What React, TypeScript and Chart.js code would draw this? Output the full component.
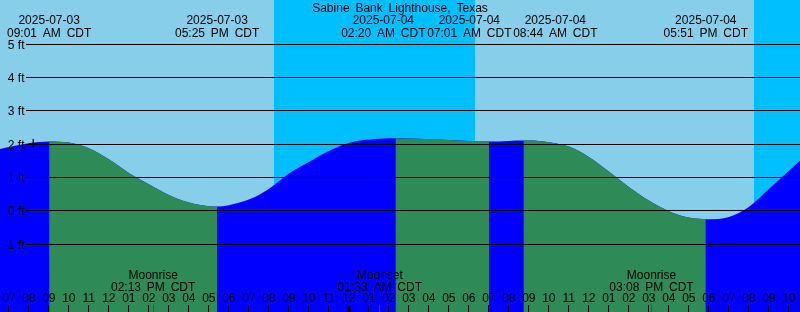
import React, { useEffect, useRef } from 'react';
import { Chart, registerables } from 'chart.js';

Chart.register(...registerables);

// ---------- data (hours since 2025-07-03 00:00 CDT, water level in feet) ----------
const TITLE = 'Sabine Bank Lighthouse, Texas';

const tideHours = [
  6.56, 7, 8, 9.017, 10, 11, 12, 13, 14, 15, 16, 17, 17.417, 18, 19, 20, 21, 22, 23, 24, 25, 26,
  26.333, 27, 28, 29, 30, 31.017, 32, 32.733, 33, 34, 35, 36, 37, 38, 39, 40, 41, 41.85, 42, 43,
  44, 45, 46, 46.56,
];
const tideLevels = [
  1.86, 1.92, 2.03, 2.08, 2.05, 1.88, 1.55, 1.14, 0.8, 0.48, 0.25, 0.14, 0.13, 0.17, 0.34, 0.66,
  1.12, 1.47, 1.8, 2.04, 2.14, 2.18, 2.18, 2.17, 2.15, 2.13, 2.1, 2.08, 2.1, 2.11, 2.11, 2.06,
  1.93, 1.62, 1.18, 0.72, 0.31, -0.01, -0.2, -0.25, -0.25, -0.18, 0.12, 0.66, 1.2, 1.51,
];

// high / low tide events
const eventHours = [9.017, 17.417, 26.333, 31.017, 32.733, 41.85];
const eventDates = ['2025-07-03', '2025-07-03', '2025-07-04', '2025-07-04', '2025-07-04', '2025-07-04'];
const eventClock = ['09:01 AM CDT', '05:25 PM CDT', '02:20 AM CDT', '07:01 AM CDT', '08:44 AM CDT', '05:51 PM CDT'];
// falling-tide intervals (high -> low)
const fallStarts = [9.017, 26.333, 32.733];
const fallEnds = [17.417, 31.017, 41.85];

// moon events
const moonHours = [14.217, 25.55, 39.133];
const moonNames = ['Moonrise', 'Moonset', 'Moonrise'];
const moonClock = ['02:13 PM CDT', '01:33 AM CDT', '03:08 PM CDT'];

// night (sunset -> sunrise)
const nightStarts = [20.26, 44.26];
const nightEnds = [30.31, 48];

// current-time marker
const nowHour = [8.22];
const nowLevel = [2.02];

// axes
const firstTickHour = 7;
const hourLabels = [
  '07', '08', '09', '10', '11', '12', '01', '02', '03', '04', '05', '06', '07', '08', '09', '10',
  '11', '12', '01', '02', '03', '04', '05', '06', '07', '08', '09', '10', '11', '12', '01', '02',
  '03', '04', '05', '06', '07', '08', '09', '10',
];
const midnightHours = [24];
const levelTicks = [-1, 0, 1, 2, 3, 4, 5];
const levelLabels = ['-1 ft', '0 ft', '1 ft', '2 ft', '3 ft', '4 ft', '5 ft'];

const X_MIN = 6.56;
const X_MAX = 46.56;
const Y_MIN = -3.033;
const Y_MAX = 6.327;

// ---------- styles ----------
const DAY = '#87CEEB';
const NIGHT = '#00BFFF';
const RISING = '#0000FF';
const FALLING = '#2E8B57';
const FONT = '12px "Liberation Sans", Arial, sans-serif';
const LABEL_SLOT = 86;

function spacedWidth(ctx: CanvasRenderingContext2D, text: string, extra = 2.5) {
  const words = text.split(' ');
  const sp = ctx.measureText(' ').width + extra;
  return words.reduce((a, w) => a + ctx.measureText(w).width, 0) + sp * (words.length - 1);
}

function drawSpaced(ctx: CanvasRenderingContext2D, text: string, cx: number, y: number, extra = 2.5) {
  const words = text.split(' ');
  const sp = ctx.measureText(' ').width + extra;
  let x = cx - spacedWidth(ctx, text, extra) / 2;
  ctx.textAlign = 'left';
  words.forEach((w) => {
    ctx.fillText(w, x, y);
    x += ctx.measureText(w).width + sp;
  });
}

// push overlapping labels apart: overlapping ones form a contiguous group centred on their mean
function packLabels(centers: number[], width: number): number[] {
  let groups = centers.map((c, i) => ({ items: [i], center: c }));
  let changed = true;
  while (changed) {
    changed = false;
    for (let g = 0; g < groups.length - 1; g++) {
      const a = groups[g];
      const b = groups[g + 1];
      if (a.center + (a.items.length * width) / 2 > b.center - (b.items.length * width) / 2) {
        const items = [...a.items, ...b.items];
        const center = items.reduce((s, k) => s + centers[k], 0) / items.length;
        groups.splice(g, 2, { items, center });
        changed = true;
        break;
      }
    }
  }
  const out: number[] = [];
  groups.forEach((g) => {
    const n = g.items.length;
    g.items.forEach((k, j) => {
      out[k] = g.center + (j - (n - 1) / 2) * width;
    });
  });
  return out;
}

const decor = {
  id: 'tideDecor',
  beforeDatasetsDraw(chart: any) {
    const { ctx, chartArea, scales } = chart;
    const xs = scales.x;
    ctx.save();
    ctx.fillStyle = DAY;
    ctx.fillRect(chartArea.left, chartArea.top, chartArea.right - chartArea.left, chartArea.bottom - chartArea.top);
    ctx.fillStyle = NIGHT;
    nightStarts.forEach((s, i) => {
      const a = Math.round(xs.getPixelForValue(s));
      const b = Math.round(xs.getPixelForValue(nightEnds[i]));
      ctx.fillRect(a, chartArea.top, b - a, chartArea.bottom - chartArea.top);
    });
    ctx.restore();
  },
  afterDatasetsDraw(chart: any) {
    const { ctx, chartArea, scales } = chart;
    const xs = scales.x;
    const ys = scales.y;
    ctx.save();
    ctx.font = FONT;
    ctx.fillStyle = '#000';
    ctx.strokeStyle = '#000';
    ctx.lineWidth = 1;
    ctx.textBaseline = 'alphabetic';

    // horizontal grid + level labels
    levelTicks.forEach((v, i) => {
      const row = Math.floor(ys.getPixelForValue(v));
      ctx.beginPath();
      ctx.moveTo(26, row + 0.5);
      ctx.lineTo(chartArea.right, row + 0.5);
      ctx.stroke();
      ctx.textAlign = 'right';
      ctx.fillText(levelLabels[i], 24.5, row + 5);
    });

    // hour ticks
    const bottom = chartArea.bottom;
    hourLabels.forEach((lab, i) => {
      const h = firstTickHour + i;
      const px = xs.getPixelForValue(h);
      const col = Math.floor(px);
      const thick = midnightHours.includes(h);
      ctx.lineWidth = thick ? 3 : 1;
      ctx.beginPath();
      ctx.moveTo(thick ? col + 1 : col + 0.5, bottom - 7);
      ctx.lineTo(thick ? col + 1 : col + 0.5, bottom);
      ctx.stroke();
      ctx.textAlign = 'center';
      ctx.fillText(lab, px, bottom - 10);
    });
    ctx.lineWidth = 1;

    // moon events
    moonHours.forEach((h, i) => {
      const px = xs.getPixelForValue(h);
      const col = Math.floor(px);
      ctx.strokeStyle = '#FF0000';
      ctx.beginPath();
      ctx.moveTo(col + 0.5, bottom - 7);
      ctx.lineTo(col + 0.5, bottom);
      ctx.stroke();
      ctx.fillStyle = '#000';
      ctx.textAlign = 'center';
      ctx.fillText(moonNames[i], px, bottom - 33);
      drawSpaced(ctx, moonClock[i], px, bottom - 21);
    });

    // tide event labels (collision-avoided)
    ctx.fillStyle = '#000';
    const placed = packLabels(
      eventHours.map((h) => xs.getPixelForValue(h)),
      LABEL_SLOT
    );
    placed.forEach((px, i) => {
      ctx.textAlign = 'center';
      ctx.fillText(eventDates[i], px, 24);
      drawSpaced(ctx, eventClock[i], px, 37);
    });

    // title
    drawSpaced(ctx, TITLE, (chartArea.left + chartArea.right) / 2, 12);
    ctx.restore();
  },
};

export default function App() {
  const ref = useRef<HTMLCanvasElement | null>(null);

  useEffect(() => {
    document.body.style.margin = '0';
    const canvas = ref.current;
    if (!canvas) return;

    const allPoints = tideHours.map((h, k) => ({ x: h, y: tideLevels[k] }));

    // whole curve in the rising colour
    const base = {
      type: 'line' as const,
      data: allPoints,
      fill: 'start',
      backgroundColor: RISING,
      borderColor: 'transparent',
      borderWidth: 0,
      pointRadius: 0,
      cubicInterpolationMode: 'monotone' as const,
      order: 3,
    };

    // falling stretches drawn over it
    const falling = fallStarts.map((s, i) => ({
      type: 'line' as const,
      data: allPoints.filter((p) => p.x >= s - 1e-6 && p.x <= fallEnds[i] + 1e-6),
      fill: 'start',
      backgroundColor: FALLING,
      borderColor: 'transparent',
      borderWidth: 0,
      pointRadius: 0,
      cubicInterpolationMode: 'monotone' as const,
      order: 2,
    }));

    const marker = {
      type: 'line' as const,
      data: nowHour.map((h, i) => ({ x: h, y: nowLevel[i] })),
      showLine: false,
      pointStyle: 'cross',
      pointRadius: 4.5,
      pointBorderColor: '#000',
      pointBorderWidth: 1.2,
      borderColor: '#000',
      order: 0,
    };

    const chart = new Chart(canvas, {
      type: 'line',
      data: { datasets: [marker as any, ...falling, base] },
      options: {
        responsive: false,
        devicePixelRatio: 1,
        animation: false,
        layout: { padding: 0, autoPadding: false },
        events: [],
        plugins: { legend: { display: false }, tooltip: { enabled: false } },
        scales: {
          x: { type: 'linear', min: X_MIN, max: X_MAX, display: false },
          y: { type: 'linear', min: Y_MIN, max: Y_MAX, display: false },
        },
      },
      plugins: [decor],
    });
    return () => chart.destroy();
  }, []);

  return (
    <div style={{ width: 800, height: 312 }}>
      <canvas ref={ref} width={800} height={312} style={{ display: 'block' }} />
    </div>
  );
}
